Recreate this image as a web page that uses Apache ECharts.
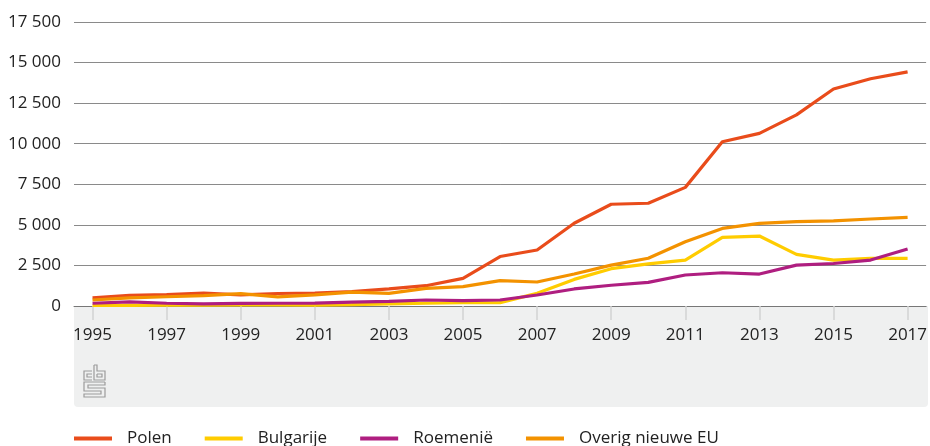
<!DOCTYPE html>
<html>
<head>
<meta charset="utf-8">
<script src="https://cdn.jsdelivr.net/npm/echarts@6/dist/echarts.min.js"></script>
<style>
  html, body { margin: 0; padding: 0; background: #fff; }
  #chart { width: 930px; height: 446px; }
</style>
</head>
<body>
<div id="chart"></div>
<script>
// jaren
const years = ['1995', '1996', '1997', '1998', '1999', '2000', '2001', '2002', '2003', '2004', '2005', '2006',
  '2007', '2008', '2009', '2010', '2011', '2012', '2013', '2014', '2015', '2016', '2017'];

const seriesNames = ['Polen', 'Bulgarije', 'Roemenië', 'Overig nieuwe EU'];

const polen = [510, 650, 710, 790, 690, 770, 800, 880, 1050, 1250, 1700, 3050,
  3450, 5100, 6270, 6330, 7310, 10120, 10640, 11780, 13370, 14000, 14430];
const bulgarije = [30, 40, 50, 60, 70, 70, 60, 80, 130, 170, 200, 210,
  780, 1640, 2300, 2600, 2830, 4230, 4310, 3180, 2830, 2930, 2930];
const roemenie = [170, 260, 170, 130, 160, 170, 180, 240, 290, 370, 330, 370,
  680, 1050, 1280, 1460, 1910, 2050, 1970, 2520, 2620, 2830, 3510];
const overig = [370, 500, 570, 640, 760, 560, 680, 850, 780, 1090, 1190, 1560,
  1480, 1970, 2520, 2940, 3960, 4780, 5090, 5200, 5240, 5360, 5460];

const yMin = 0, yMax = 17500, yStep = 2500;

const colors = ['#e94c1b', '#ffcc00', '#af1e80', '#f39200'];

const chart = echarts.init(document.getElementById('chart'));

// cbs logo (grijs, lijntjes)
const logoLines = [
  [[92, 371], [84, 371], [84, 380], [92, 380]],
  [[92, 374], [87, 374], [87, 377], [92, 377]],
  [[94, 365], [94, 380], [105, 380], [105, 371], [97, 371], [97, 365], [94, 365]],
  [[97, 374], [102, 374], [102, 377], [97, 377], [97, 374]],
  [[105, 382], [84, 382], [84, 391], [101, 391], [101, 394], [84, 394], [84, 397],
    [105, 397], [105, 388], [88, 388], [88, 385], [105, 385], [105, 382]]
];

const fmt = v => String(v).replace(/\B(?=(\d{3})+(?!\d))/g, ' ');

const option = {
  animation: false,
  color: colors,
  textStyle: { fontFamily: 'Open Sans' },
  grid: { left: 74, right: 2, top: 22, bottom: 140 },
  graphic: [
    {
      type: 'rect',
      z: -10,
      shape: { x: 74, y: 306, width: 854, height: 101, r: [0, 0, 4, 4] },
      style: { fill: '#eff0f0' }
    }
  ].concat(logoLines.map(pts => ({
    type: 'polyline',
    shape: { points: pts },
    style: { stroke: '#9b9b9b', lineWidth: 1.2, fill: null }
  }))),
  legend: {
    left: 74,
    top: 430,
    padding: 0,
    icon: 'rect',
    itemWidth: 38,
    itemHeight: 4,
    itemGap: 33,
    data: seriesNames,
    textStyle: { fontSize: 17, color: '#222', padding: [0, 0, 0, 10] }
  },
  xAxis: {
    type: 'category',
    data: years,
    boundaryGap: true,
    axisLine: { show: true, lineStyle: { color: '#777', width: 1 } },
    axisTick: { show: true, alignWithLabel: true, interval: 1, length: 14, lineStyle: { color: '#d2d2d2', width: 1.5 } },
    axisLabel: { interval: 1, fontSize: 17, color: '#222', margin: 21 }
  },
  yAxis: {
    type: 'value',
    min: yMin,
    max: yMax,
    interval: yStep,
    axisLine: { show: false },
    axisTick: { show: false },
    axisLabel: { fontSize: 17, color: '#222', margin: 13, formatter: fmt },
    splitLine: { lineStyle: { color: '#8a8a8a', width: 1 } }
  },
  series: [
    { name: seriesNames[0], type: 'line', data: polen },
    { name: seriesNames[1], type: 'line', data: bulgarije },
    { name: seriesNames[2], type: 'line', data: roemenie },
    { name: seriesNames[3], type: 'line', data: overig }
  ].map(s => Object.assign(s, {
    showSymbol: false,
    symbol: 'none',
    lineStyle: { width: 3.2 }
  }))
};

chart.setOption(option);
</script>
</body>
</html>
